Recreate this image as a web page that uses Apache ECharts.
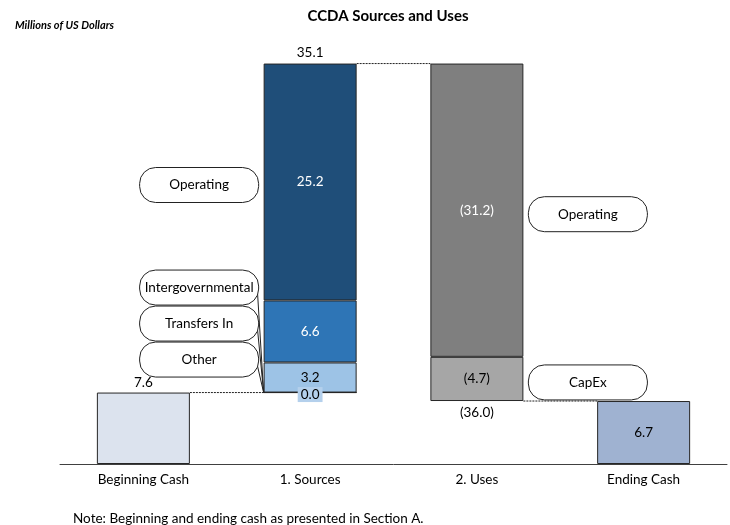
<!DOCTYPE html>
<html>
<head>
<meta charset="utf-8">
<script src="https://cdn.jsdelivr.net/npm/echarts@6/dist/echarts.min.js"></script>
<style>
html,body{margin:0;padding:0;background:#fff;}
#chart{width:730px;height:525px;}
</style>
</head>
<body>
<div id="chart"></div>
<script>
// ---- data ----
const categories = ['Beginning Cash', '1. Sources', '2. Uses', 'Ending Cash'];
const beginningCash = 7.6;
const endingCash = 6.7;
// bottom to top
const sourceNames = ['Intergovernmental', 'Other', 'Transfers In', 'Operating'];
const sourceValues = [0.0, 3.2, 6.6, 25.2];
const sourcesTotal = 35.1;
// bottom to top
const useNames = ['CapEx', 'Operating'];
const useValues = [-4.7, -31.2];
const usesTotal = -36.0;
const noteText = 'Note: Beginning and ending cash as presented in Section A.';

// ---- styles / layout ----
const FONT = 'Lato, "Open Sans", sans-serif';
const TXT = '#000000';
const BORDER = '#262626';
const sourceColors = ['#9dc3e6', '#9dc3e6', '#2e75b6', '#1f4e79'];
const sourceLabelColors = [TXT, TXT, '#ffffff', '#ffffff'];
const useColors = ['#a6a6a6', '#7f7f7f'];
const useLabelColors = [TXT, '#ffffff'];
const BAR_W = 93;
const FS = 13.5;

const fmt = v => v < 0 ? '(' + Math.abs(v).toFixed(1) + ')' : v.toFixed(1);
const sum = a => a.reduce((s, v) => s + v, 0);

const sourcesTop = beginningCash + sum(sourceValues);
const usesBottom = sourcesTop + sum(useValues);

const baseData = [0, beginningCash, usesBottom, 0];

const series = [];
series.push({
  type: 'bar', stack: 'w', barWidth: BAR_W, silent: true,
  itemStyle: { color: 'transparent' },
  data: baseData
});
series.push({
  type: 'bar', stack: 'w', barWidth: BAR_W,
  itemStyle: { borderColor: BORDER, borderWidth: 1 },
  label: { show: true, fontFamily: FONT, fontSize: FS, color: TXT, opacity: 1, formatter: p => fmt(p.value) },
  data: [
    { value: beginningCash, itemStyle: { color: '#dce3ee' }, label: { position: 'top', distance: 3, color: TXT } },
    '-', '-',
    { value: endingCash, itemStyle: { color: '#9fb2d1' }, label: { position: 'inside', color: TXT } }
  ]
});
const levels = Math.max(sourceValues.length, useValues.length);
for (let i = 0; i < levels; i++) {
  const d = ['-', '-', '-', '-'];
  if (i < sourceValues.length) {
    const zero = sourceValues[i] === 0;
    d[1] = {
      value: sourceValues[i],
      itemStyle: { color: sourceColors[i] },
      label: zero
        ? { position: 'inside', color: TXT, backgroundColor: '#b4d0ec', padding: [1, 3, 0, 3], offset: [0, 2] }
        : { position: 'inside', color: sourceLabelColors[i] }
    };
  }
  if (i < useValues.length) {
    d[2] = {
      value: Math.abs(useValues[i]),
      raw: useValues[i],
      itemStyle: { color: useColors[i] },
      label: { position: 'inside', color: useLabelColors[i] }
    };
  }
  series.push({
    type: 'bar', stack: 'w', barWidth: BAR_W,
    itemStyle: { borderColor: BORDER, borderWidth: 1 },
    label: {
      show: true, fontFamily: FONT, fontSize: FS,
      formatter: p => fmt(p.data.raw !== undefined ? p.data.raw : p.value)
    },
    data: d
  });
}
series.push({
  type: 'scatter', symbolSize: 0, silent: true, z: 5,
  label: { show: true, fontFamily: FONT, fontSize: FS, color: TXT, opacity: 1, formatter: p => p.data.text },
  data: [
    { value: [1, sourcesTop], text: fmt(sourcesTotal), label: { position: 'top', distance: 4, color: TXT } },
    { value: [2, usesBottom], text: fmt(usesTotal), label: { position: 'bottom', distance: 5, color: TXT } }
  ]
});
const connectorLevels = [beginningCash, sourcesTop, usesBottom];
series.push({
  type: 'custom', z: 6, silent: true,
  data: connectorLevels.map((v, i) => [i, v]),
  renderItem: (params, api) => {
    const i = api.value(0), v = api.value(1);
    const p1 = api.coord([i, v]), p2 = api.coord([i + 1, v]);
    return {
      type: 'line',
      shape: { x1: p1[0] + BAR_W / 2, y1: p1[1], x2: p2[0] - BAR_W / 2, y2: p2[1] },
      style: { stroke: '#222', lineWidth: 1, lineDash: [2, 1] }
    };
  }
});
const srcMid = i => beginningCash + sum(sourceValues.slice(0, i)) + sourceValues[i] / 2;
const useMid = i => usesBottom + sum(useValues.slice(0, i).map(Math.abs)) + Math.abs(useValues[i]) / 2;
// [category index, anchor value, text, side, dy px, leader]
const callouts = [
  [1, srcMid(3), sourceNames[3], -1, 3, 0],
  [1, beginningCash, sourceNames[0], -1, -105, 1],
  [1, beginningCash, sourceNames[2], -1, -69, 1],
  [1, beginningCash, sourceNames[1], -1, -33, 1],
  [2, useMid(1), useNames[1], 1, 4, 0],
  [2, useMid(0), useNames[0], 1, 3.5, 0]
];
series.push({
  type: 'custom', z: 7, silent: true,
  data: callouts.map(c => [c[0], c[1], c[3], c[4], c[5]]),
  renderItem: (params, api) => {
    const c = callouts[params.dataIndex];
    const pt = api.coord([api.value(0), api.value(1)]);
    const side = api.value(2), dy = api.value(3), leader = api.value(4);
    const w = 119, h = 35;
    const barEdge = pt[0] + side * BAR_W / 2;
    const x = side < 0 ? barEdge - 5 - w : barEdge + 5;
    const cy = pt[1] + dy;
    const children = [];
    if (leader) {
      children.push({
        type: 'line',
        shape: { x1: x + w - 1, y1: cy + 7, x2: barEdge, y2: pt[1] },
        style: { stroke: '#222', lineWidth: 1 }
      });
    }
    children.push({
      type: 'rect',
      shape: { x: x, y: cy - h / 2, width: w, height: h, r: 16 },
      style: { fill: '#ffffff', stroke: '#222', lineWidth: 1 }
    });
    children.push({
      type: 'text',
      style: { x: x + w / 2, y: cy, text: c[2], fill: TXT, font: FS + 'px ' + FONT, align: 'center', verticalAlign: 'middle' }
    });
    return { type: 'group', children: children };
  }
});

const chart = echarts.init(document.getElementById('chart'), null, { renderer: 'canvas' });
chart.setOption({
  animation: false,
  backgroundColor: '#ffffff',
  title: [
    { text: 'CCDA Sources and Uses', left: 383, top: 4, textAlign: 'center',
      textStyle: { fontFamily: FONT, fontSize: 15, fontWeight: 'bold', color: '#000' } },
    { text: 'Millions of US Dollars', left: 10, top: 15,
      textStyle: { fontFamily: FONT, fontSize: 11, fontWeight: 'bold', fontStyle: 'italic', color: '#000' } },
    { text: noteText, left: 68, top: 507,
      textStyle: { fontFamily: FONT, fontSize: 13.5, fontWeight: 'normal', color: '#000' } }
  ],
  grid: { left: 60, right: 3, top: 41, bottom: 61, containLabel: false },
  xAxis: {
    type: 'category', data: categories,
    axisLine: { lineStyle: { color: '#404040', width: 1 } },
    axisTick: { show: false },
    axisLabel: { fontFamily: FONT, fontSize: FS, color: TXT, margin: 9 }
  },
  yAxis: { type: 'value', min: 0, max: 45, show: false, splitLine: { show: false } },
  series: series
});
</script>
</body>
</html>
